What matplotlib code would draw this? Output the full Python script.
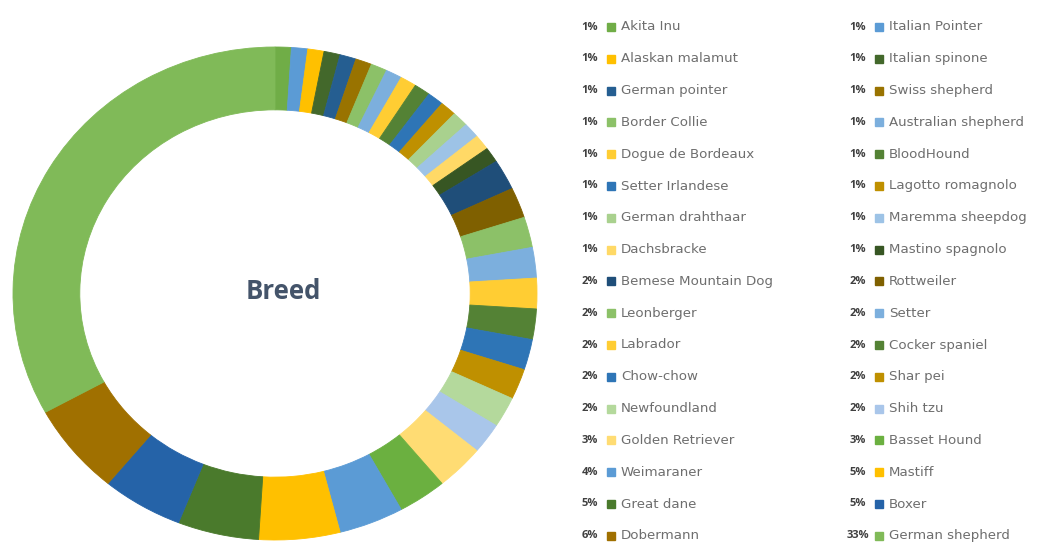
import matplotlib.pyplot as plt
from matplotlib.patches import Rectangle

# 数据：按饼图顺序（从12点方向顺时针）
breeds = ['Akita Inu', 'Italian Pointer', 'Alaskan malamut', 'Italian spinone',
          'German pointer', 'Swiss shepherd', 'Border Collie', 'Australian shepherd',
          'Dogue de Bordeaux', 'BloodHound', 'Setter Irlandese', 'Lagotto romagnolo',
          'German drahthaar', 'Maremma sheepdog', 'Dachsbracke', 'Mastino spagnolo',
          'Bemese Mountain Dog', 'Rottweiler', 'Leonberger', 'Setter',
          'Labrador', 'Cocker spaniel', 'Chow-chow', 'Shar pei',
          'Newfoundland', 'Shih tzu', 'Golden Retriever', 'Basset Hound',
          'Weimaraner', 'Mastiff', 'Great dane', 'Boxer',
          'Dobermann', 'German shepherd']
shares = [1, 1, 1, 1, 1, 1, 1, 1, 1, 1, 1, 1, 1, 1, 1, 1,
          2, 2, 2, 2, 2, 2, 2, 2, 2, 2,
          3, 3, 4, 5, 5, 5, 6, 33]
colors = ['#70AD47', '#5B9BD5', '#FFC000', '#43682B', '#255E91', '#997300',
          '#8CC168', '#7CAFDD', '#FFCD33', '#548235', '#2E75B6', '#BF9000',
          '#A9D18E', '#9DC3E6', '#FFD966', '#375623', '#1F4E79', '#7F6000',
          '#8CC168', '#7CAFDD', '#FFCD33', '#548235', '#2E75B6', '#BF9000',
          '#B4D99C', '#A9C6EA', '#FFDC73', '#6BB040', '#5B9BD5', '#FFC000',
          '#4A7A2C', '#2563A8', '#A07000', '#80BA58']

fig = plt.figure(figsize=(10.46, 5.48), dpi=100)
W, H = 1046, 548

# 环形图
ax = fig.add_axes([13 / W, 8 / H, 524 / W, 493 / H])
wedges, _ = ax.pie(shares, colors=colors, startangle=90, counterclock=False,
                   wedgeprops=dict(width=0.255, linewidth=0.6))
for w, c in zip(wedges, colors):
    w.set_edgecolor(c)
ax.set_aspect('auto')
ax.set_xlim(-1, 1)
ax.set_ylim(-1, 1)
ax.text(0.03, 0.01, 'Breed', ha='center', va='center', fontsize=18.5,
        fontweight='bold', color='#44546A', family='Open Sans')

# 图例（两列，按行排列）
row_y0 = 27
row_step = 31.8
col_pct_x = [590, 858]
col_box_x = [607, 875]
col_txt_x = [621, 889]
for i, (name, val, c) in enumerate(zip(breeds, shares, colors)):
    row, col = i // 2, i % 2
    y = row_y0 + row * row_step
    fig.text(col_pct_x[col] / W, 1 - y / H, f'{val}%', ha='center', va='center',
             fontsize=8, fontweight='bold', color='#404040', family='Open Sans')
    fig.patches.append(Rectangle((col_box_x[col] / W, 1 - (y + 4) / H), 8 / W, 8 / H,
                                 transform=fig.transFigure, color=c))
    fig.text(col_txt_x[col] / W, 1 - y / H, name, ha='left', va='center',
             fontsize=9.6, color='#6E6E6E', family='DejaVu Sans')

plt.savefig('out.png', dpi=100)
